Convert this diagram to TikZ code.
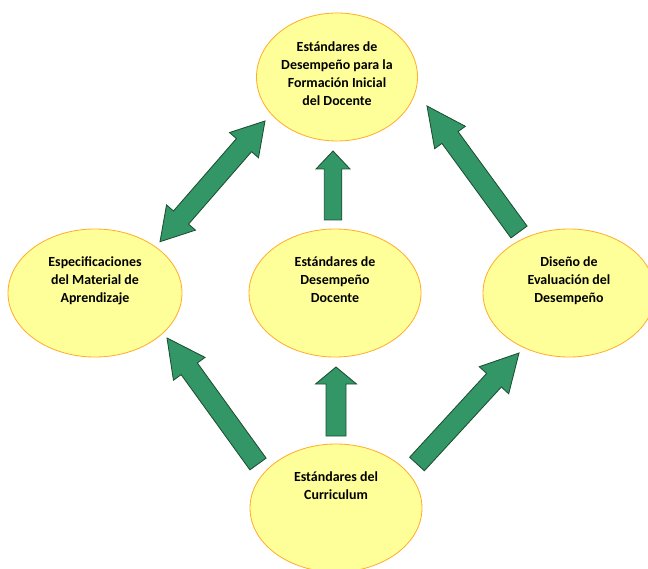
\documentclass[tikz,border=0pt]{standalone}
\usepackage{fontspec}
\setmainfont{Carlito}
\usetikzlibrary{calc,shapes.geometric}
\definecolor{bubblefill}{RGB}{255,255,153}
\definecolor{bubbleline}{RGB}{255,175,45}
\definecolor{arrowfill}{RGB}{51,150,102}
\definecolor{arrowline}{RGB}{28,78,48}
\def\pxl{0.025cm}
\def\blockarrow[#1](#2)(#3)(#4:#5:#6){\coordinate (hb) at ($(#3)!#4*\pxl!(#2)$);
	\draw[#1] ($(#2)!#5*\pxl!90:(#3)$) -- ($(hb)!#5*\pxl!90:(#3)$) -- ($(hb)!#6*\pxl!90:(#3)$) -- (#3) -- ($(hb)!#6*\pxl!-90:(#3)$) -- ($(hb)!#5*\pxl!-90:(#3)$) -- ($(#2)!#5*\pxl!-90:(#3)$) -- cycle;}
\def\doublearrow[#1](#2)(#3)(#4:#5:#6){\coordinate (hb) at ($(#3)!#4*\pxl!(#2)$);
	\coordinate (ha) at ($(#2)!#4*\pxl!(#3)$);
	\draw[#1] (#3) -- ($(hb)!#6*\pxl!90:(#3)$) -- ($(hb)!#5*\pxl!90:(#3)$) -- ($(ha)!#5*\pxl!90:(#3)$) -- ($(ha)!#6*\pxl!90:(#3)$) -- (#2) -- ($(ha)!#6*\pxl!-90:(#3)$) -- ($(ha)!#5*\pxl!-90:(#3)$) -- ($(hb)!#5*\pxl!-90:(#3)$) -- ($(hb)!#6*\pxl!-90:(#3)$) -- cycle;}

\begin{document}
\begin{tikzpicture}[x=0.025cm, y=-0.025cm,
	bubble/.style={ellipse, draw=bubbleline, fill=bubblefill, line width=0.6pt, inner sep=0pt, minimum height=128*\pxl},
	caption/.style={font=\bfseries\fontsize{9.9}{12.8}\selectfont, align=center, inner sep=0pt, anchor=north},
	blk/.style={draw=arrowline, fill=arrowfill, line width=0.6pt, line join=miter}]
			%%%%% START %%%%%
			\useasboundingbox (0,0) rectangle (648,569);
			
			\node[bubble, minimum width=161*\pxl] (form) at (337,77) {};
			\node[bubble, minimum width=174*\pxl] (mat) at (95,293) {};
			\node[bubble, minimum width=172*\pxl] (doc) at (335,293) {};
			\node[bubble, minimum width=172*\pxl] (eval) at (569,293) {};
			\node[bubble, minimum width=172*\pxl] (curr) at (336,508) {};
			
			\node[caption] (formtxt) at ($(form.center)+(0,-36)$) {Estándares de\\Desempeño para la\\Formación Inicial\\del Docente};
			\node[caption] (mattxt) at ($(mat.center)+(0,-37)$) {Especificaciones\\del Material de\\Aprendizaje};
			\node[caption] (doctxt) at ($(doc.center)+(0,-37)$) {Estándares de\\Desempeño\\Docente};
			\node[caption] (evaltxt) at ($(eval.center)+(0,-37)$) {Diseño de\\Evaluación del\\Desempeño};
			\node[caption] (currtxt) at ($(curr.center)+(0,-37)$) {Estándares del\\Curriculum};
			
			% arrow ends
			\coordinate (matend) at (160,241.7);
			\coordinate (formend) at (265,121);
			\coordinate (docfoot) at (333,220);
			\coordinate (doctip) at (333,151);
			\coordinate (evalfoot) at (519,232);
			\coordinate (evaltip) at (427,106);
			\coordinate (currleft) at (258,464);
			\coordinate (mattip) at (167,338);
			\coordinate (currmid) at (336,436);
			\coordinate (docbase) at (336,367);
			\coordinate (curright) at (417,464);
			\coordinate (evalbase) at (519,353);
			
			\doublearrow[blk](matend)(formend)(32:10:19.2)
			\blockarrow[blk](docfoot)(doctip)(18:8.75:17)
			\blockarrow[blk](evalfoot)(evaltip)(39:10:19)
			\blockarrow[blk](currleft)(mattip)(38:10:19.5)
			\blockarrow[blk](currmid)(docbase)(17:10:20.5)
			\blockarrow[blk](curright)(evalbase)(37:10:20)
			
			%%%%% END %%%%%
\end{tikzpicture}
\end{document}
